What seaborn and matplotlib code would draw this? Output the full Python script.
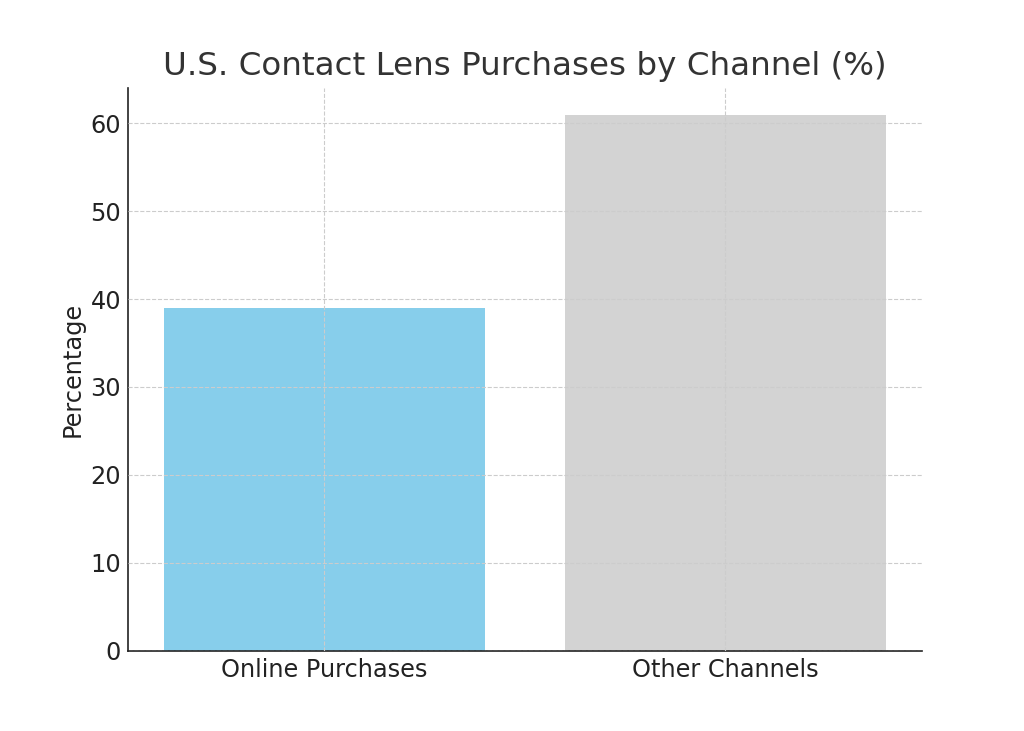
import matplotlib
matplotlib.use("Agg")
import matplotlib.pyplot as plt
import seaborn as sns
import pandas as pd

channels = ["Online Purchases", "Other Channels"]
shares = [39, 61]
bar_colors = ["skyblue", "lightgray"]

sns.set_style("white")
plt.rcParams['font.family'] = ['DejaVu Sans']

df = pd.DataFrame({"channel": channels, "share": shares})

fig, ax = plt.subplots(figsize=(10.24, 7.31), dpi=100)
sns.barplot(data=df, x="channel", y="share", hue="channel",
            palette=bar_colors, width=0.8, saturation=1, legend=False,
            linewidth=0, ax=ax)

ax.set_title("U.S. Contact Lens Purchases by Channel (%)", fontsize=23.4,
             color="#333333", pad=9)
ax.set_xlabel("")
ax.set_ylabel("Percentage", fontsize=17.3, color="#222222")
ax.tick_params(axis="both", labelsize=17.3, colors="#222222", direction="in",
               length=4, width=1, pad=5)
ax.grid(True, linestyle="--", color="#cccccc", linewidth=0.8)
ax.set_axisbelow(False)
ax.set_xlim(-0.49, 1.49)
ax.set_ylim(0, 64.05)

sns.despine(ax=ax)
for s in ["left", "bottom"]:
    ax.spines[s].set_color("#222222")
    ax.spines[s].set_linewidth(1.2)

fig.subplots_adjust(left=0.125, right=0.9, top=0.88, bottom=0.11)
fig.savefig("out.png", dpi=100)
